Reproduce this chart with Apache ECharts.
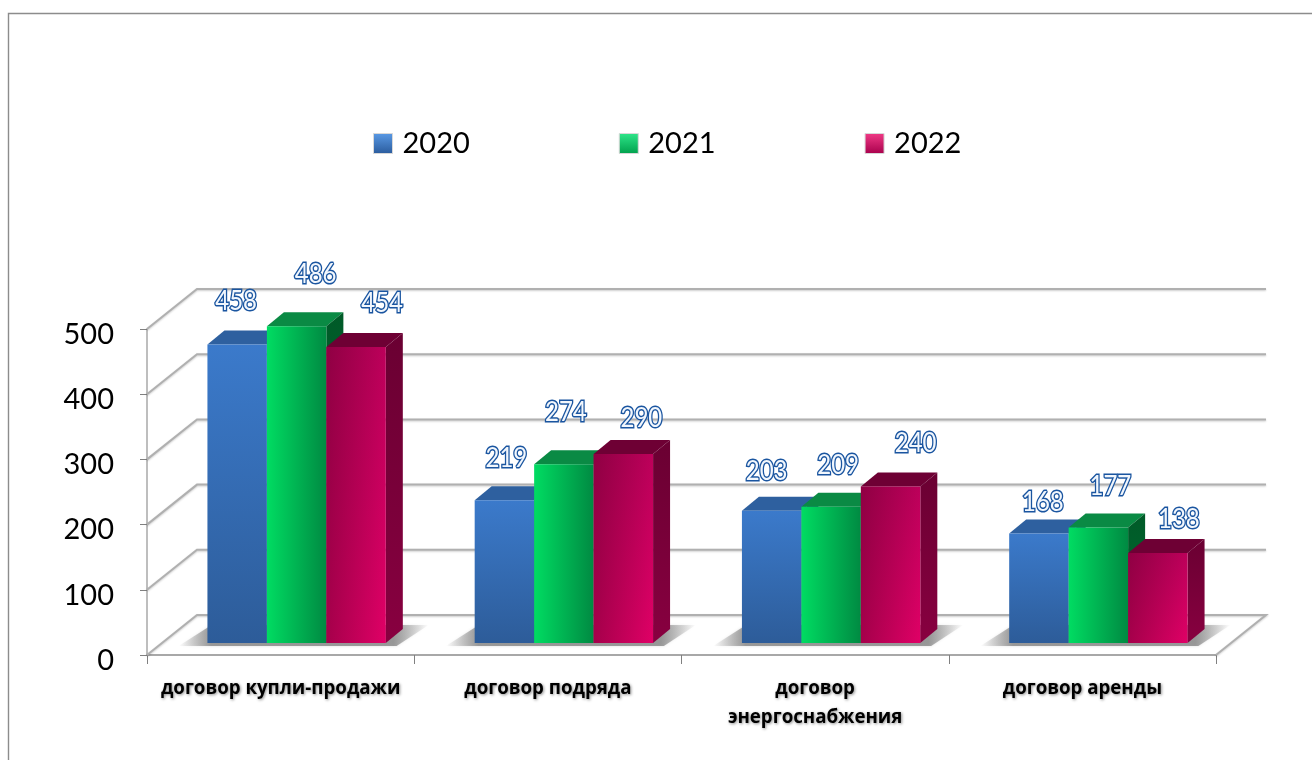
<!DOCTYPE html>
<html><head><meta charset="utf-8">
<style>html,body{margin:0;padding:0;background:#fff}#c{width:1312px;height:760px}</style>
<script src="https://cdn.jsdelivr.net/npm/echarts@6/dist/echarts.min.js"></script>
</head><body><div id="c"></div>
<script>
const categories = ['договор купли-продажи','договор подряда','договор\nэнергоснабжения','договор аренды'];
const years = ['2020','2021','2022'];
const values2020 = [458,219,203,168];
const values2021 = [486,274,209,177];
const values2022 = [454,290,240,138];
const yTicks = [0,100,200,300,400,500];

// layout constants for the fake 3D look (pixels)
const WALL_DX = 50, WALL_DY = -40, BAR_DX = 17, BAR_DY = -14;
const BASE_SHIFT_X = 16, BASE_SHIFT_Y = -12, BAR_RATIO = 0.2225;
const labelNudge = [
  [[-1,-43],[19,-52],[26,-44]],
  [[2,-42],[2,-52],[18,-36]],
  [[-5,-40],[7,-42],[25,-43]],
  [[4,-31],[12,-41],[21,-34]]
];
const lin = (x,y,x2,y2,a,b)=>({type:'linear',x,y,x2,y2,colorStops:[{offset:0,color:a},{offset:1,color:b}]});
const faces = [
  {front:lin(0,0,0,1,'#3b7acb','#2d5c99'),top:'#2e609f',side:'#234a7d',legend:lin(0,0,0,1,'#5a9ae6','#2a5b9c')},
  {front:lin(0,0,1,0,'#00dc62','#008a42'),top:'#0a8a44',side:lin(0,0,0,1,'#005a28','#006e33'),legend:lin(0,0,0,1,'#2fe68a','#00a04c')},
  {front:lin(0,0,0,1,'#bc005a','#e00066'),overlay:lin(0,0,1,0,'rgba(70,0,30,0.38)','rgba(70,0,30,0)'),top:'#6e0034',side:lin(0,0,0,1,'#6a0032','#880040'),legend:lin(0,0,0,1,'#f03a86','#a8004c')}
];
const textFont = 'Lato, "Open Sans", sans-serif';

function barSeries(name, arr, s){
  return {
    name, type:'custom', coordinateSystem:'cartesian2d', clip:false, z:5,
    itemStyle:{color:faces[s].legend},
    encode:{x:0,y:1},
    data:arr.map((v,i)=>[i,v]),
    renderItem(params, api){
      const i = api.value(0), v = api.value(1);
      const catW = api.size([1,0])[0], w = catW*BAR_RATIO;
      const base = api.coord([i,0]), top = api.coord([i,v]);
      const x0 = base[0]+BASE_SHIFT_X+(s-1.5)*w, x1 = x0+w;
      const yb = base[1]+BASE_SHIFT_Y, yt = top[1]+BASE_SHIFT_Y;
      const f = faces[s], n = labelNudge[i][s];
      const kids = [
        {type:'polygon',shape:{points:[[x0,yt],[x1,yt],[x1+BAR_DX,yt+BAR_DY],[x0+BAR_DX,yt+BAR_DY]]},style:{fill:f.top}},
        {type:'polygon',shape:{points:[[x1,yt],[x1+BAR_DX,yt+BAR_DY],[x1+BAR_DX,yb+BAR_DY],[x1,yb]]},style:{fill:f.side}},
        {type:'rect',shape:{x:x0,y:yt,width:w,height:yb-yt},style:{fill:f.front}}
      ];
      if (f.overlay) kids.push({type:'rect',shape:{x:x0,y:yt,width:w,height:yb-yt},style:{fill:f.overlay}});
      kids.push({type:'text',z2:100,x:x0+w/2+n[0],y:yt+n[1],scaleY:1.15,style:{
          text:String(v),font:'24px '+textFont,align:'center',verticalAlign:'middle',
          fill:'#f2f7fd',stroke:'#1a55a0',lineWidth:2.6,strokeFirst:true,
          shadowBlur:3,shadowColor:'rgba(0,0,0,0.35)',shadowOffsetX:1,shadowOffsetY:1}});
      return {type:'group',children:kids};
    }
  };
}

const option = {
  animation:false,
  backgroundColor:'#fff',
  textStyle:{fontFamily:textFont},
  graphic:[{type:'rect',z:-10,shape:{x:8.5,y:13.5,width:1400,height:800},style:{fill:'none',stroke:'#8c8c8c',lineWidth:1.4}}],
  legend:{
    data:years.map((y,i)=>({name:y,icon:'rect',itemStyle:{color:faces[i].legend,borderColor:'#d8d8d8',borderWidth:1}})),
    left:368, top:124, itemWidth:19, itemHeight:20, itemGap:149,
    textStyle:{fontSize:29,color:'#000',fontFamily:textFont,padding:[0,0,0,5]}
  },
  grid:{left:147,right:96,top:329,bottom:105},
  xAxis:{
    type:'category',data:categories,boundaryGap:true,
    axisLine:{lineStyle:{color:'#a8a8a8',width:2}},
    axisTick:{show:true,alignWithLabel:false,length:9,lineStyle:{color:'#808080',width:1}},
    axisLabel:{interval:0,margin:19,fontSize:18.7,fontWeight:'bold',color:'#000',lineHeight:29,
      fontFamily:'"Open Sans",sans-serif',textShadowColor:'rgba(0,0,0,0.45)',textShadowBlur:3,textShadowOffsetX:1,textShadowOffsetY:1}
  },
  yAxis:{
    type:'value',min:0,max:500,interval:100,
    axisLine:{show:true,lineStyle:{color:'#a8a8a8',width:1.5}},
    axisTick:{show:true,length:7,lineStyle:{color:'#808080',width:1}},
    splitLine:{show:false},
    axisLabel:{margin:33,fontSize:29,color:'#000',fontFamily:textFont,verticalAlign:'top',lineHeight:11}
  },
  series:[
    {type:'custom',coordinateSystem:'cartesian2d',clip:false,silent:true,z:1,encode:{y:0},
     data:yTicks.map(t=>[t]),
     renderItem(params,api){
       const t = api.value(0), y = api.coord([0,t])[1];
       const cs = params.coordSys, L = cs.x, R = cs.x+cs.width;
       const pts = t===0 ? [[L,y],[L+WALL_DX,y+WALL_DY],[R+WALL_DX,y+WALL_DY],[R,y]]
                         : [[L,y],[L+WALL_DX,y+WALL_DY],[R+WALL_DX,y+WALL_DY]];
       return {type:'polyline',shape:{points:pts},style:{fill:'none',stroke:'#b0b0b0',lineWidth:2,shadowBlur:2,shadowColor:'rgba(0,0,0,0.2)',shadowOffsetY:1}};
     }},
    {type:'custom',coordinateSystem:'cartesian2d',clip:false,silent:true,z:2,encode:{x:0,y:1},
     data:categories.map((c,i)=>[i,0]),
     renderItem(params,api){
       const p = api.coord([api.value(0),0]), cx = p[0]+BASE_SHIFT_X, y = p[1];
       return {type:'polygon',shape:{points:[[cx-118,y-9],[cx+100,y-9],[cx+132,y-30],[cx-85,y-30]]},
         style:{
           fill:{type:'linear',x:0,y:0,x2:1,y2:0,colorStops:[
             {offset:0,color:'rgba(120,120,120,0)'},{offset:0.13,color:'rgba(120,120,120,0.7)'},
             {offset:0.86,color:'rgba(120,120,120,0.7)'},{offset:1,color:'rgba(120,120,120,0)'}]},
           shadowBlur:3,shadowColor:'rgba(120,120,120,0.35)'}};
     }},
    barSeries(years[0],values2020,0),
    barSeries(years[1],values2021,1),
    barSeries(years[2],values2022,2)
  ]
};
echarts.init(document.getElementById('c'),null,{renderer:'canvas'}).setOption(option);
</script></body></html>
